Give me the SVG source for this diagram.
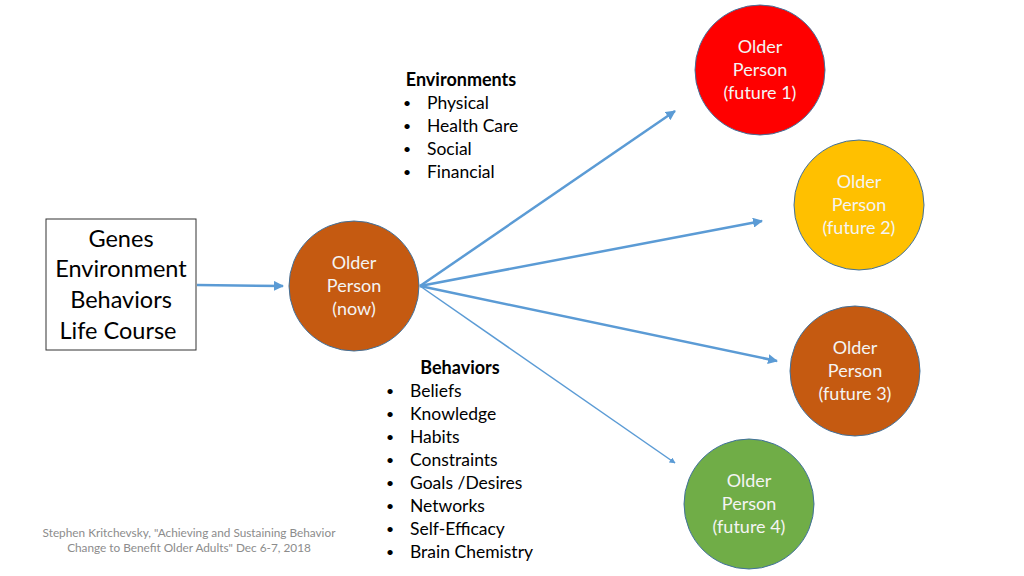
<svg xmlns="http://www.w3.org/2000/svg" width="1024" height="576" viewBox="0 0 1024 576">
<style>
text{font-family:Lato,"Open Sans","Liberation Sans",sans-serif;}
.ct{fill:#f4f4f4;font-size:18px;text-anchor:middle;}
.bx{fill:#000;font-size:23.5px;text-anchor:middle;}
.lt{fill:#000;font-size:17.5px;}
.bu{fill:#000;font-size:14px;}
.hd{fill:#000;font-size:18px;font-weight:bold;}
.ft{fill:#8c8c8c;font-size:11.8px;text-anchor:middle;}
.node circle{stroke:#41719c;stroke-width:1;}
.conn line{stroke:#5b9bd5;stroke-width:2.5;fill:none;}
</style>
<defs>
<marker id="ah" viewBox="0 0 10 10" refX="9" refY="5" markerWidth="4" markerHeight="4" orient="auto" markerUnits="strokeWidth">
<path d="M0,0 L10,5 L0,10 z" fill="#5b9bd5"/>
</marker>
</defs>
<rect width="1024" height="576" fill="#fff"/>
<g id="factors">
<rect x="46" y="219" width="150" height="131" fill="#fff" stroke="#333" stroke-width="1"/>
<text class="bx" x="121" y="247">Genes</text>
<text class="bx" x="121" y="277">Environment</text>
<text class="bx" x="121" y="308">Behaviors</text>
<text class="bx" x="118" y="339">Life Course</text>
</g>
<g class="conn" id="connectors">
<line x1="197" y1="285" x2="283" y2="286" marker-end="url(#ah)"/>
<line x1="420" y1="286" x2="675" y2="111" marker-end="url(#ah)"/>
<line x1="420" y1="286" x2="762" y2="221" marker-end="url(#ah)"/>
<line x1="420" y1="286" x2="777" y2="361" marker-end="url(#ah)"/>
<line x1="420" y1="286" x2="675" y2="463" marker-end="url(#ah)" style="stroke-width:1.5"/>
</g>
<g class="node" id="now">
<circle cx="354" cy="286" r="65" fill="#c55a11"/>
<text class="ct" x="354" y="269">Older</text>
<text class="ct" x="354" y="292">Person</text>
<text class="ct" x="354" y="315">(now)</text>
</g>
<g class="node" id="future1">
<circle cx="760" cy="70" r="65" fill="#ff0000"/>
<text class="ct" x="760" y="53">Older</text>
<text class="ct" x="760" y="76">Person</text>
<text class="ct" x="760" y="99">(future 1)</text>
</g>
<g class="node" id="future2">
<circle cx="859" cy="205" r="65" fill="#ffc000"/>
<text class="ct" x="859" y="188">Older</text>
<text class="ct" x="859" y="211">Person</text>
<text class="ct" x="859" y="234">(future 2)</text>
</g>
<g class="node" id="future3">
<circle cx="855" cy="371" r="65" fill="#c55a11"/>
<text class="ct" x="855" y="354">Older</text>
<text class="ct" x="855" y="377">Person</text>
<text class="ct" x="855" y="400">(future 3)</text>
</g>
<g class="node" id="future4">
<circle cx="749" cy="504" r="65" fill="#70ad47"/>
<text class="ct" x="749" y="487">Older</text>
<text class="ct" x="749" y="510">Person</text>
<text class="ct" x="749" y="533">(future 4)</text>
</g>
<g id="environments">
<text class="hd" x="461" y="86" text-anchor="middle">Environments</text>
<text class="bu" x="403" y="108">•</text><text class="lt" x="427" y="109">Physical</text>
<text class="bu" x="403" y="131">•</text><text class="lt" x="427" y="132">Health Care</text>
<text class="bu" x="403" y="154">•</text><text class="lt" x="427" y="155">Social</text>
<text class="bu" x="403" y="177">•</text><text class="lt" x="427" y="178">Financial</text>
</g>
<g id="behaviors">
<text class="hd" x="460" y="374" text-anchor="middle">Behaviors</text>
<text class="bu" x="386" y="396">•</text><text class="lt" x="410" y="397">Beliefs</text>
<text class="bu" x="386" y="419">•</text><text class="lt" x="410" y="420">Knowledge</text>
<text class="bu" x="386" y="442">•</text><text class="lt" x="410" y="443">Habits</text>
<text class="bu" x="386" y="465">•</text><text class="lt" x="410" y="466">Constraints</text>
<text class="bu" x="386" y="488">•</text><text class="lt" x="410" y="489">Goals /Desires</text>
<text class="bu" x="386" y="511">•</text><text class="lt" x="410" y="512">Networks</text>
<text class="bu" x="386" y="534">•</text><text class="lt" x="410" y="535">Self-Efficacy</text>
<text class="bu" x="386" y="557">•</text><text class="lt" x="410" y="558">Brain Chemistry</text>
</g>
<g id="footer">
<text class="ft" x="189" y="537">Stephen Kritchevsky, "Achieving and Sustaining Behavior</text>
<text class="ft" x="189" y="552">Change to Benefit Older Adults" Dec 6-7, 2018</text>
</g>
</svg>
